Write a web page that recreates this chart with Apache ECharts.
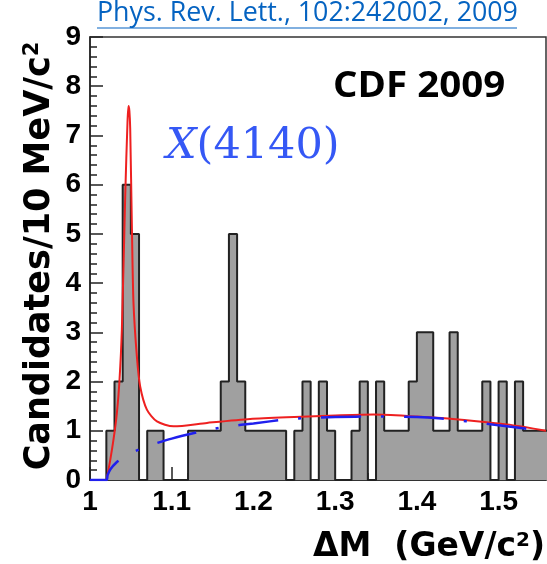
<!DOCTYPE html>
<html><head><meta charset="utf-8">
<script src="https://cdn.jsdelivr.net/npm/echarts@6/dist/echarts.min.js"></script>
<style>html,body{margin:0;padding:0;background:#fff}#c{width:547px;height:564px}</style>
</head><body><div id="c"></div>
<script>
// Histogram bins (lower edges, GeV/c^2) and candidate counts per 10 MeV/c^2
const binEdges = [1.00,1.01,1.02,1.03,1.04,1.05,1.06,1.07,1.08,1.09,
                  1.10,1.11,1.12,1.13,1.14,1.15,1.16,1.17,1.18,1.19,
                  1.20,1.21,1.22,1.23,1.24,1.25,1.26,1.27,1.28,1.29,
                  1.30,1.31,1.32,1.33,1.34,1.35,1.36,1.37,1.38,1.39,
                  1.40,1.41,1.42,1.43,1.44,1.45,1.46,1.47,1.48,1.49,
                  1.50,1.51,1.52,1.53,1.54,1.55,1.56];
const counts = [0,0,1,2,6,5,0,1,1,0,
                0,0,1,1,1,1,2,5,2,1,
                1,1,1,1,0,1,2,0,2,1,
                0,0,1,2,0,2,1,1,1,2,
                3,3,1,1,3,1,1,1,2,0,
                2,0,2,1,1,1];
// Fit curve (signal + background)
const fitX = [1.0202,1.0247,1.029,1.0329,1.036,1.039,1.0431,1.0459,1.0471,1.0482,1.0492,1.0513,1.0532,1.0574,1.0614,1.0696,1.0819,1.1022,1.1431,1.196,1.25,1.3,1.347,1.4,1.43,1.47,1.51,1.53,1.558];
const fitY = [0,0.4,0.85,1.36,2.0,3.06,5.78,7.28,7.6,7.5,7.14,5.1,3.6,2.5,1.9,1.43,1.19,1.09,1.16,1.24,1.28,1.31,1.33,1.29,1.26,1.2,1.13,1.08,1.0];
// Background-only curve
const bkgX = [1.0,1.0202,1.0215,1.025,1.032,1.04,1.049,1.069,1.1,1.145,1.17,1.2,1.24,1.265,1.3,1.35,1.4,1.43,1.45,1.47,1.5,1.53,1.558];
const bkgY = [0,0,0.1,0.22,0.35,0.45,0.54,0.68,0.84,1.02,1.09,1.15,1.23,1.26,1.28,1.29,1.28,1.25,1.21,1.18,1.11,1.05,0.99];
const xTicks = {min:1.0, max:1.558, step:0.1};
const yTicks = {min:0, max:9, step:1};

const histData = binEdges.map((e,i)=>[e, counts[Math.min(i, counts.length-1)]]);
const fitData = fitX.map((x,i)=>[x, fitY[i]]);
const bkgData = bkgX.map((x,i)=>[x, bkgY[i]]);

const chart = echarts.init(document.getElementById('c'), null, {renderer:'canvas'});
const labelFont = {fontFamily:'Liberation Sans', fontWeight:'bold', fontSize:28, color:'#000'};
chart.setOption({
  animation:false,
  backgroundColor:'#fff',
  grid:{left:90, right:1, top:37, bottom:84, show:true, borderColor:'#333', borderWidth:1.5, backgroundColor:'transparent'},
  xAxis:{type:'value', min:xTicks.min, max:xTicks.max, interval:xTicks.step,
    axisLine:{show:true, onZero:false, lineStyle:{color:'#222', width:1.5}},
    axisTick:{show:true, inside:true, length:13, lineStyle:{color:'#222', width:1.5}},
    minorTick:{show:true, splitNumber:5, length:7, lineStyle:{color:'#222', width:1.5}},
    splitLine:{show:false},
    axisLabel:Object.assign({margin:8, showMaxLabel:false, formatter:v=>String(Math.round(v*10)/10)}, labelFont)},
  yAxis:{type:'value', min:yTicks.min, max:yTicks.max, interval:yTicks.step,
    axisLine:{show:true, lineStyle:{color:'#222', width:1.5}},
    axisTick:{show:true, inside:true, length:13, lineStyle:{color:'#222', width:1.5}},
    minorTick:{show:true, splitNumber:5, length:7, lineStyle:{color:'#222', width:1.5}},
    splitLine:{show:false},
    axisLabel:Object.assign({margin:9}, labelFont)},
  series:[
    {type:'line', data:histData, step:'end', showSymbol:false, clip:true,
     lineStyle:{color:'#222', width:2}, areaStyle:{color:'#a0a0a0', opacity:1}, z:2},
    {type:'line', data:fitData, smooth:0.25, showSymbol:false, clip:true,
     lineStyle:{color:'#ee2020', width:2}, z:3},
    {type:'line', data:bkgData, smooth:0.25, showSymbol:false, clip:true,
     lineStyle:{color:'#2020ee', width:2.5, type:[40,20,3,20]}, z:4}
  ],
  graphic:[
    {type:'text', x:97, y:0, style:{text:'Phys. Rev. Lett., 102:242002, 2009', fill:'#0563C1',
      font:'26.8px "Open Sans"', verticalAlign:'top'}},
    {type:'line', shape:{x1:97, y1:28, x2:517, y2:28}, style:{stroke:'#0563C1', lineWidth:1.2}},
    {type:'text', x:333, y:70, scaleX:1.1, style:{text:'CDF 2009', fill:'#000',
      font:'bold 35px "Open Sans"', verticalAlign:'top'}},
    {type:'text', x:166, y:125, style:{text:'{i|X}{n|(4140)}', verticalAlign:'top',
      rich:{i:{fontFamily:'DejaVu Serif', fontStyle:'italic', fontSize:43, fill:'#3558f5'},
            n:{fontFamily:'DejaVu Serif', fontSize:43, fill:'#3558f5'}}}},
    {type:'text', x:40, y:256, rotation:Math.PI/2, style:{text:'{a|Candidates/10 MeV/c}{s|2}',
      align:'center', verticalAlign:'middle',
      rich:{a:{fontFamily:'DejaVu Sans', fontWeight:'bold', fontSize:35, fill:'#000'},
            s:{fontFamily:'DejaVu Sans', fontWeight:'bold', fontSize:21, fill:'#000', verticalAlign:'top'}}}},
    {type:'text', x:545, y:547, style:{text:'{a|ΔM  (GeV/c}{s|2}{a|)}', align:'right', verticalAlign:'middle',
      rich:{a:{fontFamily:'DejaVu Sans', fontWeight:'bold', fontSize:33, fill:'#000'},
            s:{fontFamily:'DejaVu Sans', fontWeight:'bold', fontSize:20, fill:'#000', verticalAlign:'top'}}}}
  ]
});
</script></body></html>
